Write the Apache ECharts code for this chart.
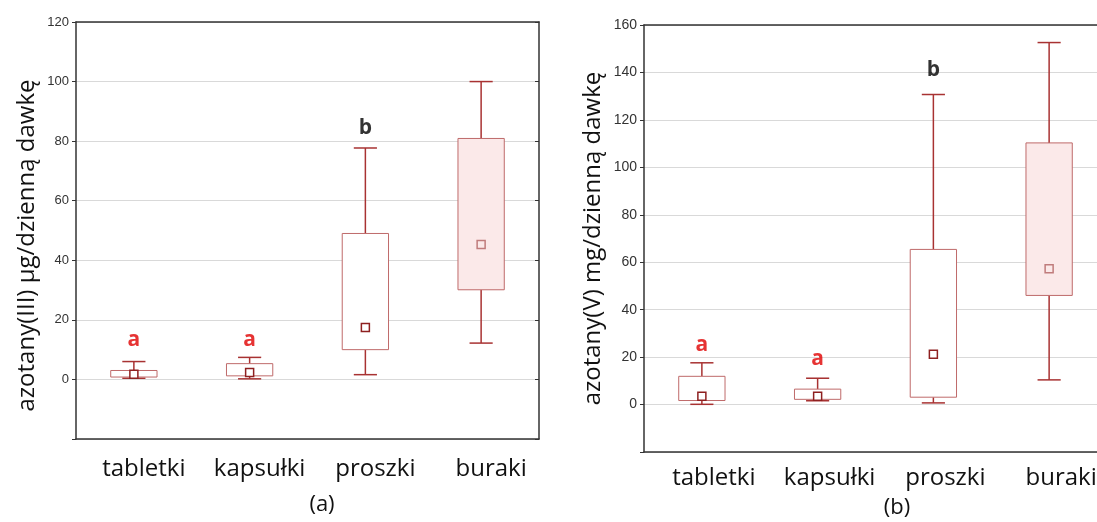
<!DOCTYPE html>
<html>
<head>
<meta charset="utf-8">
<script src="https://cdn.jsdelivr.net/npm/echarts@6/dist/echarts.min.js"></script>
<style>
  html, body { margin: 0; padding: 0; background: #fff; }
  #chart { width: 1097px; height: 522px; }
</style>
</head>
<body>
<div id="chart"></div>
<script>
const categories = ['tabletki', 'kapsułki', 'proszki', 'buraki']

// [min, Q1, median, Q3, max]
const nitriteBoxes = [
  [0.4, 0.8, 1.7, 3.0, 6.0],
  [0.2, 1.2, 2.3, 5.3, 7.4],
  [1.6, 10.0, 17.4, 49.0, 77.7],
  [12.2, 30.1, 45.3, 80.9, 100.0]
]
const nitrateBoxes = [
  [0.1, 1.7, 3.5, 11.9, 17.6],
  [1.6, 2.2, 3.5, 6.5, 11.1],
  [0.7, 3.1, 21.2, 65.4, 130.7],
  [10.4, 46.0, 57.2, 110.3, 152.6]
]

// litery grup jednorodnych i ich wysokość
const nitriteLetters = ['a', 'a', 'b', '']
const nitriteLetterY = [13.1, 13.1, 84.5, null]
const nitrateLetters = ['a', 'a', 'b', '']
const nitrateLetterY = [24.9, 19.4, 141, null]

const nitriteTicks = [-20, 120, 20]
const nitrateTicks = [-20, 160, 20]

const whiskerColor = '#a83232'
const boxColor = '#bf6a6a'
const pinkFill = '#fbe9e9'

function renderBox(params, api) {
  const i = api.value(0)
  const band = api.size([1, 0])[0]
  const bw = band * 0.4
  const cw = band * 0.2
  const pMin = api.coord([i, api.value(1)])
  const pQ1 = api.coord([i, api.value(2)])
  const pMed = api.coord([i, api.value(3)])
  const pQ3 = api.coord([i, api.value(4)])
  const pMax = api.coord([i, api.value(5)])
  const x = pMed[0]
  const last = i === categories.length - 1
  const lineStyle = { stroke: whiskerColor, lineWidth: 1.5 }
  return {
    type: 'group',
    children: [
      { type: 'line', shape: { x1: x, y1: pQ3[1], x2: x, y2: pMax[1] }, style: lineStyle },
      { type: 'line', shape: { x1: x - cw / 2, y1: pMax[1], x2: x + cw / 2, y2: pMax[1] }, style: lineStyle },
      { type: 'line', shape: { x1: x, y1: pQ1[1], x2: x, y2: pMin[1] }, style: lineStyle },
      { type: 'line', shape: { x1: x - cw / 2, y1: pMin[1], x2: x + cw / 2, y2: pMin[1] }, style: lineStyle },
      {
        type: 'rect',
        shape: { x: x - bw / 2, y: pQ3[1], width: bw, height: pQ1[1] - pQ3[1] },
        style: { fill: last ? pinkFill : '#fff', stroke: boxColor, lineWidth: 1 }
      },
      {
        type: 'rect',
        shape: { x: x - 4, y: pMed[1] - 4, width: 8, height: 8 },
        style: { fill: last ? pinkFill : '#fff', stroke: last ? '#c07c7c' : '#8e2020', lineWidth: 1.5 }
      }
    ]
  }
}

function boxData(rows) {
  return rows.map((r, i) => [i, r[0], r[1], r[2], r[3], r[4]])
}
function letterData(letters, ys) {
  return letters.map((l, i) => ({ value: [i, ys[i]], label: { formatter: l, color: l === 'a' ? '#e00000' : '#000' } }))
    .filter((d) => d.value[1] != null)
}

function xAxes(grid, labelSize, pad, margin) {
  return [
    {
      type: 'category', gridIndex: grid, data: categories, position: 'bottom',
      axisLine: { onZero: false, lineStyle: { color: '#333', width: 1.5 } },
      axisTick: { inside: true, length: 4, alignWithLabel: true, lineStyle: { color: '#333' } },
      axisLabel: {
        interval: 0, hideOverlap: false,
        fontFamily: 'Open Sans', fontSize: labelSize, color: '#111', margin: margin, padding: [0, 0, 0, pad]
      },
      splitLine: { show: false }
    },
    {
      type: 'category', gridIndex: grid, data: categories, position: 'top',
      axisLine: { onZero: false, lineStyle: { color: '#333', width: 1.5 } },
      axisTick: { inside: true, length: 4, alignWithLabel: true, lineStyle: { color: '#333' } },
      axisLabel: { show: false },
      splitLine: { show: false }
    }
  ]
}

function yAxes(grid, ticks, name, labelSize, nameGap, namePad) {
  return [
    {
      type: 'value', gridIndex: grid, min: ticks[0], max: ticks[1], interval: ticks[2], position: 'left',
      name: name, nameLocation: 'middle', nameGap: nameGap,
      nameTextStyle: { fontFamily: 'Open Sans', fontSize: 24, color: '#111', padding: namePad },
      axisLine: { show: true, onZero: false, lineStyle: { color: '#333', width: 1.5 } },
      axisTick: { show: true, length: 4, lineStyle: { color: '#333' } },
      axisLabel: {
        fontFamily: 'Liberation Sans', fontSize: labelSize, color: '#333', margin: 7,
        formatter: (v) => (v < 0 ? '' : String(v))
      },
      splitLine: { lineStyle: { color: '#d9d9d9', width: 1.2 } }
    },
    {
      type: 'value', gridIndex: grid, min: ticks[0], max: ticks[1], interval: ticks[2], position: 'right',
      axisLine: { show: true, onZero: false, lineStyle: { color: '#333', width: 1.5 } },
      axisTick: { show: true, inside: true, length: 4, lineStyle: { color: '#333' } },
      axisLabel: { show: false },
      splitLine: { show: false }
    }
  ]
}

const chart = echarts.init(document.getElementById('chart'))
chart.setOption({
  animation: false,
  grid: [
    { left: 76, top: 22, width: 463, height: 417, outerBoundsMode: 'none' },
    { left: 644, top: 25, width: 463, height: 427, outerBoundsMode: 'none' }
  ],
  xAxis: [...xAxes(0, 24, 20, 18), ...xAxes(1, 24, 24, 14)],
  yAxis: [
    ...yAxes(0, nitriteTicks, 'azotany(III) µg/dzienną dawkę', 13, 37, [0, 30, 0, 0]),
    ...yAxes(1, nitrateTicks, 'azotany(V) mg/dzienną dawkę', 14, 39, [0, 0, 0, 0])
  ],
  graphic: [
    { type: 'text', x: 322, y: 505, style: { text: '(a)', font: '22px "Open Sans"', fill: '#111', textAlign: 'center', textVerticalAlign: 'middle' } },
    { type: 'text', x: 897, y: 508, style: { text: '(b)', font: '22px "Open Sans"', fill: '#111', textAlign: 'center', textVerticalAlign: 'middle' } }
  ],
  series: [
    { type: 'custom', xAxisIndex: 0, yAxisIndex: 0, renderItem: renderBox, data: boxData(nitriteBoxes), z: 3 },
    { type: 'custom', xAxisIndex: 2, yAxisIndex: 2, renderItem: renderBox, data: boxData(nitrateBoxes), z: 3 },
    {
      type: 'scatter', xAxisIndex: 0, yAxisIndex: 0, symbolSize: 0, data: letterData(nitriteLetters, nitriteLetterY),
      label: { show: true, position: 'inside', fontFamily: 'Open Sans', fontWeight: 'bold', fontSize: 21 }
    },
    {
      type: 'scatter', xAxisIndex: 2, yAxisIndex: 2, symbolSize: 0, data: letterData(nitrateLetters, nitrateLetterY),
      label: { show: true, position: 'inside', fontFamily: 'Open Sans', fontWeight: 'bold', fontSize: 21 }
    }
  ]
})
</script>
</body>
</html>
